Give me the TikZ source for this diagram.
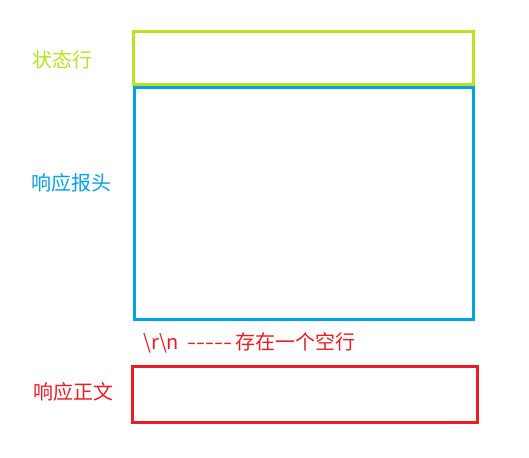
\documentclass[tikz,border=0pt]{standalone}
\usepackage{graphicx}
\usepackage{fontspec}
\setmainfont[Ligatures=TeXOff]{Noto Sans CJK SC}
\definecolor{lime}{HTML}{B5E61D}
\definecolor{cblue}{HTML}{00A2E8}
\definecolor{cred}{HTML}{ED1C24}
\begin{document}
\begin{tikzpicture}[x=1pt,y=-1pt,
  box/.style={line width=3pt},
  lbl/.style={font=\fontsize{20}{22}\selectfont, inner sep=0pt, anchor=west}]
\useasboundingbox (0,0) rectangle (529,457);
\draw[box, lime] (133,32) rectangle (473,85);
\draw[box, cblue] (134,88) rectangle (473,319);
\draw[box, cred] (132,366) rectangle (477,422);
\node[lbl, text=lime] (s) at (32,60) {状态行};
\node[lbl, text=cblue] (h) at (31,183) {响应报头};
\node[lbl, text=cred] (e) at (143,343) {\makebox[44pt][l]{\textbackslash r\textbackslash n}\makebox[48pt][l]{\resizebox{45pt}{\height}{-----}}存在一个空行};
\node[lbl, text=cred] (b) at (33,392) {响应正文};
\end{tikzpicture}
\end{document}
